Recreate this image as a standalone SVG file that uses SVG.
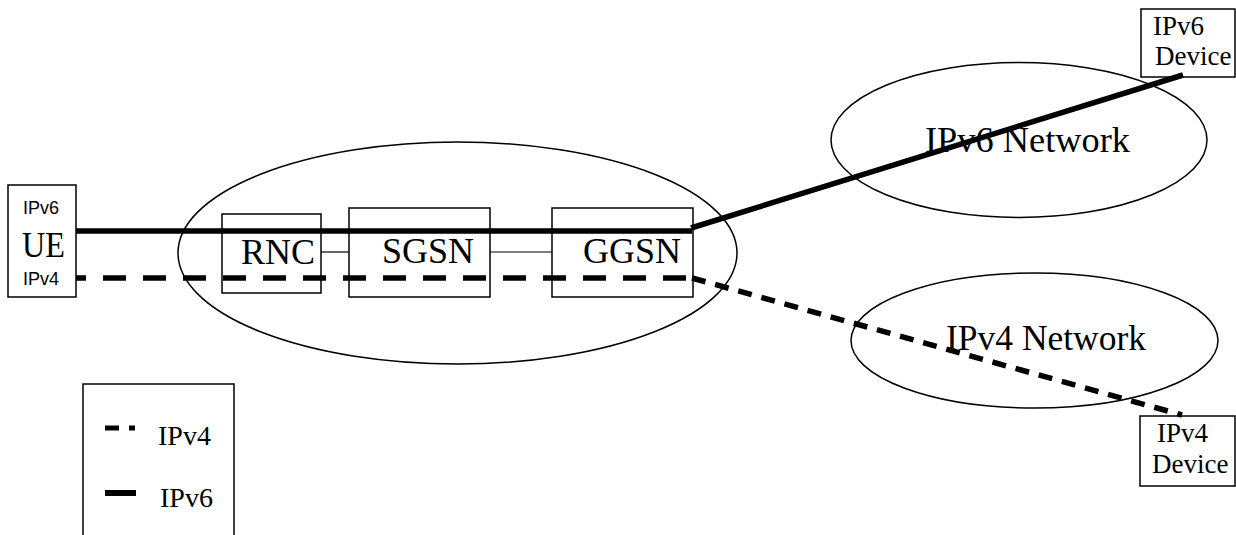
<svg xmlns="http://www.w3.org/2000/svg" width="1236" height="535" viewBox="0 0 1236 535">
<style>
.shape{fill:none;stroke:#000;stroke-width:1.5}
.serif{font-family:"Liberation Serif","Times New Roman",serif;fill:#000}
.sans{font-family:"Liberation Sans",Arial,sans-serif;fill:#000}
.big{font-size:36px}
.dev{font-size:27px}
.v6{fill:none;stroke:#000;stroke-width:5.5}
.v4{fill:none;stroke:#000;stroke-width:5.5}
.thin{fill:none;stroke:#000;stroke-width:1.2}
</style>
<rect width="1236" height="535" fill="#fff"/>
<g id="core-network"><ellipse class="shape" cx="457.5" cy="253" rx="279.5" ry="111"/></g>
<g id="ipv6-network">
<ellipse class="shape" cx="1019" cy="140" rx="188" ry="77.5"/>
<text class="serif big" x="925" y="152" textLength="205" lengthAdjust="spacingAndGlyphs">IPv6 Network</text>
</g>
<g id="ipv4-network">
<ellipse class="shape" cx="1034.5" cy="340.5" rx="183.5" ry="67.5"/>
<text class="serif big" x="946" y="350" textLength="200" lengthAdjust="spacingAndGlyphs">IPv4 Network</text>
</g>
<g id="ue">
<rect class="shape" x="8" y="185" width="68" height="112"/>
<text class="sans" x="23" y="214" font-size="18">IPv6</text>
<text class="serif" x="22" y="257" font-size="36" textLength="43" lengthAdjust="spacingAndGlyphs">UE</text>
<text class="sans" x="23" y="285" font-size="18">IPv4</text>
</g>
<g id="rnc">
<rect class="shape" x="222" y="214" width="99" height="79"/>
<text class="serif big" x="241" y="264">RNC</text>
</g>
<g id="sgsn">
<rect class="shape" x="349" y="208" width="141" height="89"/>
<text class="serif big" x="382" y="263">SGSN</text>
</g>
<g id="ggsn">
<rect class="shape" x="552" y="208" width="141" height="89"/>
<text class="serif big" x="583" y="263">GGSN</text>
</g>
<g id="ipv6-device">
<rect class="shape" x="1141" y="9" width="94" height="68"/>
<text class="serif dev" x="1153" y="35">IPv6</text>
<text class="serif dev" x="1155" y="65">Device</text>
</g>
<g id="ipv4-device">
<rect class="shape" x="1140" y="416" width="95" height="70"/>
<text class="serif dev" x="1157" y="442">IPv4</text>
<text class="serif dev" x="1152" y="473">Device</text>
</g>
<g id="connectors">
<line class="thin" x1="321" y1="252" x2="349" y2="252"/>
<line class="thin" x1="490" y1="252" x2="552" y2="252"/>
<polyline class="v6" points="76,231 692,231"/>
<line class="v6" x1="691" y1="228" x2="1183" y2="75"/>
<line class="v4" x1="76" y1="278" x2="692" y2="278" stroke-dasharray="23 17" stroke-dashoffset="13"/>
<line class="v4" x1="692" y1="278" x2="1182" y2="415" stroke-dasharray="14 10"/>
</g>
<g id="legend">
<polyline class="shape" points="83,535 83,384 234,384 234,535"/>
<line x1="105" y1="428" x2="119" y2="428" stroke="#000" stroke-width="5"/>
<line x1="129" y1="428" x2="135" y2="428" stroke="#000" stroke-width="5"/>
<text class="serif" x="158" y="445" font-size="28">IPv4</text>
<line x1="105" y1="493" x2="136" y2="493" stroke="#000" stroke-width="6"/>
<text class="serif" x="160" y="507" font-size="28">IPv6</text>
</g>
</svg>
